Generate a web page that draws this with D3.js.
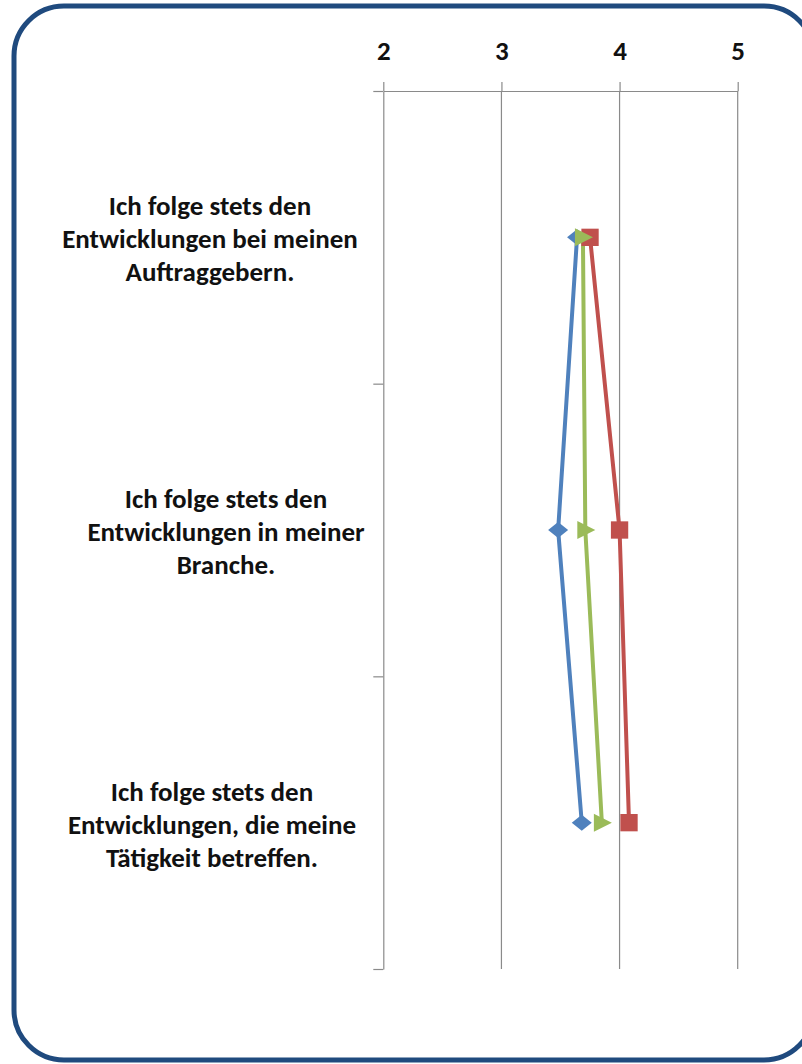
<!DOCTYPE html>
<html>
<head>
<meta charset="utf-8">
<script src="https://cdn.jsdelivr.net/npm/d3@7"></script>
<style>
  html, body { margin: 0; padding: 0; background: #ffffff; }
  svg { display: block; }
  .cat-label { font-family: "Carlito", "Lato", "Noto Sans", sans-serif; font-weight: 700; fill: #111; }
</style>
</head>
<body>
<script>
// Statements (categories), one line break per wrapped line
const categories = [
  "Ich folge stets den\nEntwicklungen bei meinen\nAuftraggebern.",
  "Ich folge stets den\nEntwicklungen in meiner\nBranche.",
  "Ich folge stets den\nEntwicklungen, die meine\nTätigkeit betreffen."
];
// Mean ratings per group
const series1 = [3.64, 3.48, 3.68];   // blue, diamonds
const series2 = [3.75, 4.00, 4.08];   // red, squares
const series3 = [3.69, 3.71, 3.85];   // green, triangles
const ratingTicks = [2, 3, 4, 5];

const W = 802, H = 1064;
const plot = { left: 383.3, right: 737.7, top: 91, bottom: 969 };
const axisColor = "#8a8a8a";
const fontStack = "Carlito, Lato, 'Noto Sans', sans-serif";

const svg = d3.select("body").append("svg").attr("width", W).attr("height", H);

// Rounded frame
svg.append("rect")
  .attr("x", 14).attr("y", 6)
  .attr("width", 800).attr("height", 1054)
  .attr("rx", 50).attr("ry", 50)
  .attr("fill", "#fff")
  .attr("stroke", "#1F4A7E").attr("stroke-width", 5);

const x = d3.scaleLinear().domain([2, 5]).range([plot.left, plot.right]);
const y = d3.scaleBand().domain(d3.range(categories.length)).range([plot.top, plot.bottom]).padding(0);
const yEdges = d3.scaleLinear().domain([0, categories.length]).range([plot.top, plot.bottom]);
const cy = i => y(i) + y.bandwidth() / 2;

// Vertical gridlines
svg.append("g")
  .selectAll("line")
  .data(ratingTicks.filter(t => t > 2))
  .join("line")
  .attr("x1", d => x(d)).attr("x2", d => x(d))
  .attr("y1", plot.top).attr("y2", plot.bottom)
  .attr("stroke", axisColor).attr("stroke-width", 1.2);

// Value axis along the top
const xAxis = svg.append("g")
  .attr("transform", `translate(0,${plot.top})`)
  .call(d3.axisTop(x).tickValues(ratingTicks).tickFormat(d3.format("d")).tickSize(9).tickPadding(22).tickSizeOuter(0))
  .attr("font-size", 27)
  .attr("font-family", fontStack)
  .attr("font-weight", 700);
xAxis.select(".domain").attr("stroke", axisColor).attr("stroke-width", 1.2);
xAxis.selectAll(".tick line").attr("stroke", axisColor).attr("stroke-width", 1.2);
xAxis.selectAll(".tick text").attr("fill", "#111");

// Category axis on the left, ticks at band edges
const yAxis = svg.append("g")
  .attr("transform", `translate(${plot.left},0)`)
  .call(d3.axisLeft(yEdges).tickValues(d3.range(categories.length + 1)).tickFormat("").tickSize(10).tickSizeOuter(0));
yAxis.select(".domain").attr("stroke", axisColor).attr("stroke-width", 1.2);
yAxis.selectAll(".tick line").attr("stroke", axisColor).attr("stroke-width", 1.2);

// Category labels
const labelCenter = [210, 226, 212];
const lineGap = 33;
categories.forEach((c, i) => {
  const lines = c.split("\n");
  const t = svg.append("text")
    .attr("class", "cat-label")
    .attr("text-anchor", "middle")
    .style("font-size", "27px");
  lines.forEach((ln, k) => {
    t.append("tspan")
      .attr("x", labelCenter[i])
      .attr("y", cy(i) + 11 + (k - (lines.length - 1) / 2) * lineGap)
      .text(ln);
  });
});

// Series lines and markers
const seriesDefs = [
  { values: series1, color: "#4F81BD", marker: "diamond" },
  { values: series2, color: "#C0504D", marker: "square" },
  { values: series3, color: "#9BBB59", marker: "triangle" }
];

const line = d3.line().x(d => x(d.v)).y(d => cy(d.i));

const markerPath = {
  diamond: "M-10,0L0,-8L10,0L0,8Z",
  square: d3.symbol().type(d3.symbolSquare).size(300)(),
  triangle: "M-8,-9L10,0L-8,9Z"
};

seriesDefs.forEach(s => {
  const pts = s.values.map((v, i) => ({ v, i }));
  svg.append("path")
    .datum(pts)
    .attr("d", line)
    .attr("fill", "none")
    .attr("stroke", s.color)
    .attr("stroke-width", 4)
    .attr("stroke-linejoin", "round");
});

seriesDefs.forEach(s => {
  const pts = s.values.map((v, i) => ({ v, i }));
  svg.append("g")
    .selectAll("path")
    .data(pts)
    .join("path")
    .attr("transform", d => `translate(${x(d.v)},${cy(d.i)})`)
    .attr("d", markerPath[s.marker])
    .attr("fill", s.color);
});
</script>
</body>
</html>
